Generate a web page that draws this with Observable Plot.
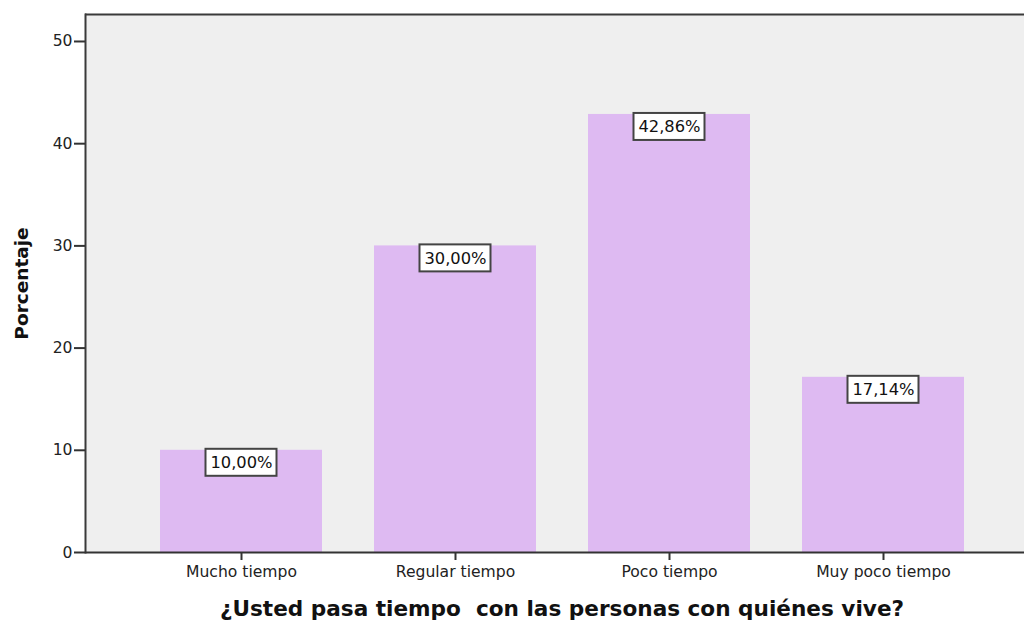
<!DOCTYPE html>
<html>
<head>
<meta charset="utf-8">
<script src="https://cdn.jsdelivr.net/npm/d3@7"></script>
<script src="https://cdn.jsdelivr.net/npm/@observablehq/plot@0.6"></script>
<style>
  html, body { margin: 0; padding: 0; background: #ffffff; }
</style>
</head>
<body>
<div id="chart"></div>
<script>
const categories = ["Mucho tiempo", "Regular tiempo", "Poco tiempo", "Muy poco tiempo"];
const values = [10.00, 30.00, 42.86, 17.14];
const labels = ["10,00%", "30,00%", "42,86%", "17,14%"];
const yTicks = [0, 10, 20, 30, 40, 50];
const xTitle = "¿Usted pasa tiempo  con las personas con quiénes vive?";
const yTitle = "Porcentaje";

const data = categories.map((c, i) => ({cat: c, value: values[i], label: labels[i]}));
const yMax = 52.64;

const chart = Plot.plot({
  width: 1024,
  height: 620,
  marginLeft: 85,
  marginRight: 0,
  marginTop: 14,
  marginBottom: 68,
  style: {fontFamily: "'DejaVu Sans', sans-serif", fontSize: "15.6px", color: "#222", background: "#ffffff"},
  x: {domain: categories, paddingInner: 0.244, paddingOuter: 0.3128, align: 0.552, label: null},
  y: {domain: [0, yMax], label: null},
  marks: [
    Plot.frame({fill: "#efefef"}),
    Plot.barY(data, {x: "cat", y: "value", fill: "#debaf2"}),
    Plot.ruleY([yMax], {stroke: "#3a3a3a", strokeWidth: 2}),
    Plot.frame({anchor: "left", stroke: "#3a3a3a", strokeWidth: 2}),
    Plot.ruleY([0], {stroke: "#333", strokeWidth: 2}),
    Plot.axisY({ticks: yTicks, tickSize: 11, tickPadding: 2, tickFormat: d => d, stroke: "#333", strokeWidth: 2, fill: "#222", fontSize: 15.6, label: null}),
    Plot.axisX({tickSize: 8, tickPadding: 5, stroke: "#333", strokeWidth: 2, fill: "#222", fontSize: 15.6, label: null}),
    Plot.rect(data, {x: "cat", y1: "value", y2: "value", insetLeft: 45.5, insetRight: 45.5, insetTop: -1, insetBottom: -26, fill: "#ffffff", stroke: "#444", strokeWidth: 2}),
    Plot.text(data, {x: "cat", y: "value", text: "label", dy: 12.5, fontSize: 16.3, fill: "#111", lineAnchor: "middle"}),
    Plot.text([xTitle], {frameAnchor: "bottom", textAnchor: "middle", dx: 7, dy: 57, fontSize: 21.6, fontWeight: "bold", fill: "#111", lineAnchor: "middle"}),
    Plot.text([yTitle], {frameAnchor: "left", textAnchor: "middle", dx: -63, rotate: -90, fontSize: 18.5, fontWeight: "bold", fill: "#111", lineAnchor: "middle"})
  ]
});
document.getElementById("chart").appendChild(chart);
</script>
</body>
</html>
